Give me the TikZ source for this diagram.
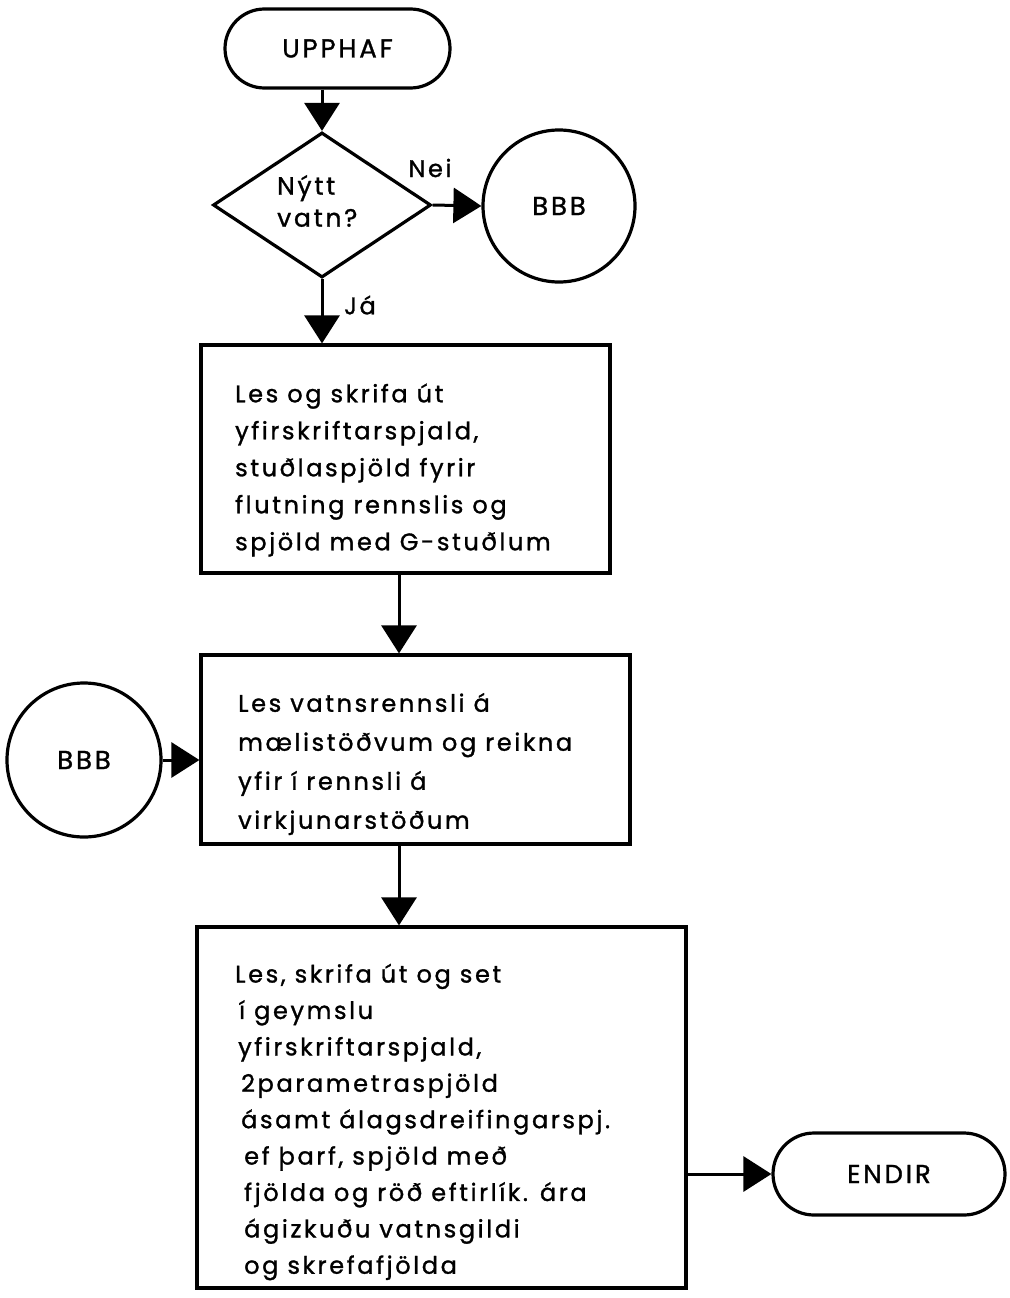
\documentclass[tikz,border=0pt]{standalone}
\usepackage{fontspec}
\setmainfont{Poppins}[LetterSpace=11,FakeBold=1.2]
\usetikzlibrary{arrows.meta,shapes.geometric,shapes.misc}
\begin{document}
\begin{tikzpicture}[x=1pt,y=-1pt,
  every node/.style={font=\fontsize{24}{37}\selectfont},
  outline/.style={draw=black,line width=3.2pt},
  termbox/.style={outline,rounded rectangle,inner sep=0pt,font=\fontsize{26}{30}\selectfont},
  procbox/.style={outline,rectangle,inner sep=0pt},
  decbox/.style={outline,diamond,inner sep=0pt,aspect=1.5},
  conbox/.style={outline,circle,inner sep=0pt,font=\fontsize{26}{30}\selectfont},
  boxtext/.style={anchor=west,align=left,inner sep=0pt},
  flow/.style={line width=3pt,-{Triangle[length=28pt,width=35pt]}},
  lbl/.style={inner sep=0pt}]
\useasboundingbox (0,0) rectangle (1009,1298);
\node[termbox,minimum width=225pt,minimum height=79pt] (start) at (337.5,48.5) {UPPHAF};
\node[decbox,minimum width=218pt,minimum height=145pt] (dec) at (322,205) {};
\node[boxtext,font=\fontsize{25}{32}\selectfont] (dectext) at (277,201) {Nýtt\\vatn?};
\node[conbox,minimum size=152pt] (bbb1) at (559,206) {BBB};
\node[procbox,minimum width=409pt,minimum height=228pt] (box1) at (405.5,459) {};
\node[boxtext] (text1) at (235,470) {Les og skrifa út\\yfirskriftarspjald,\\stuðlaspjöld fyrir\\flutning rennslis og\\spjöld med G-stuðlum};
\node[procbox,minimum width=429pt,minimum height=189pt] (box2) at (415.5,749.5) {};
\node[boxtext,font=\fontsize{24}{39}\selectfont] (text2) at (238,764) {Les vatnsrennsli á\\mælistöðvum og reikna\\yfir í rennsli á\\virkjunarstöðum};
\node[conbox,minimum size=154pt] (bbb2) at (84,760) {BBB};
\node[procbox,minimum width=489pt,minimum height=361pt] (box3) at (441.5,1107.5) {};
\node[boxtext,font=\fontsize{24}{36.4}\selectfont] (text3) at (235,1122) {Les, skrifa út og set\\\hspace*{4pt}í geymslu\\\hspace*{3pt}yfirskriftarspjald,\\\hspace*{6pt}2parametraspjöld\\\hspace*{6pt}ásamt álagsdreifingarspj.\\\hspace*{9pt}ef þarf, spjöld með\\\hspace*{9pt}fjölda og röð eftirlík. ára\\\hspace*{9pt}ágizkuðu vatnsgildi\\\hspace*{9pt}og skrefafjölda};
\node[termbox,minimum width=232pt,minimum height=82pt] (stop) at (889,1174) {ENDIR};
\draw[flow] (dec.north |- start.south) -- (dec.north);
\draw[flow] (dec.east) -- (bbb1.west);
\draw[flow] (dec.south) -- (dec.south |- box1.north);
\draw[flow] ([xshift=-6.5pt]box1.south) -- ([xshift=-6.5pt]box1.south |- box2.north);
\draw[flow] ([xshift=-16.5pt]box2.south) -- ([xshift=-16.5pt]box2.south |- box3.north);
\draw[flow] (bbb2.east) -- (bbb2.east -| box2.west);
\draw[flow] (box3.east |- stop.west) -- (stop.west);
\node[lbl] (nei) at (430,168) {Nei};
\node[lbl] (ja) at (360,305) {Já};
\end{tikzpicture}
\end{document}
